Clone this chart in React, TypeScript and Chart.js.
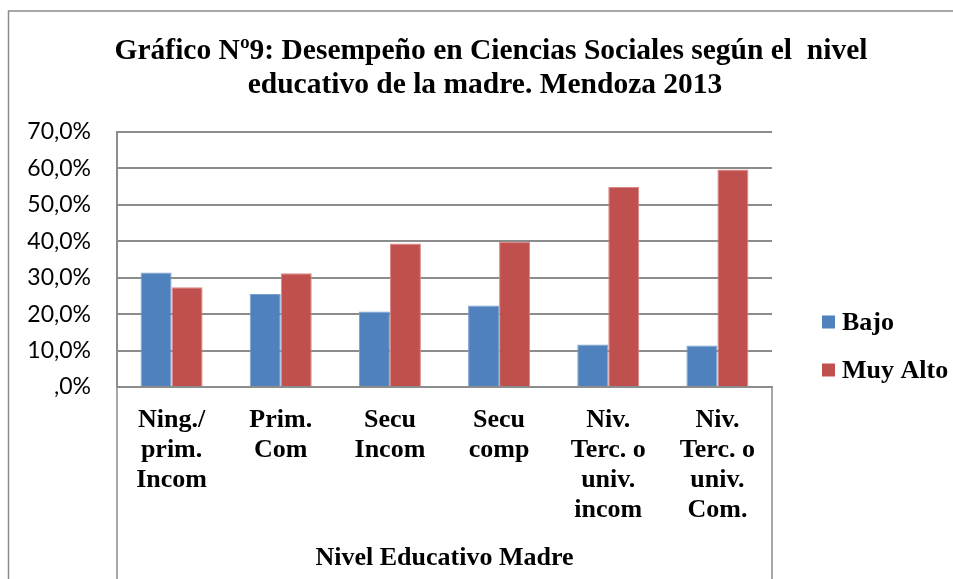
import React, { useEffect, useRef } from "react";
import { Chart, registerables } from "chart.js";

Chart.register(...registerables);

const categories: string[][] = [
  ["Ning./", "prim.", "Incom"],
  ["Prim.", "Com"],
  ["Secu", "Incom"],
  ["Secu", "comp"],
  ["Niv.", "Terc. o", "univ.", "incom"],
  ["Niv.", "Terc. o", "univ.", "Com."],
];
const bajo: number[] = [31.4, 25.5, 20.7, 22.4, 11.7, 11.4];
const muyAlto: number[] = [27.4, 31.2, 39.4, 39.9, 54.9, 59.7];
const seriesNames: string[] = ["Bajo", "Muy Alto"];
const seriesColors: string[] = ["#4F81BD", "#C0504D"];
const titleLines: string[] = [
  "Gráfico Nº9: Desempeño en Ciencias Sociales según el  nivel",
  "educativo de la madre. Mendoza 2013",
];
const xAxisTitle = "Nivel Educativo Madre";

const SERIF = "'Liberation Serif', 'Times New Roman', serif";
const SANS = "Lato, 'Liberation Sans', sans-serif";
const GRID = "#8c8c8c";

const decorPlugin = {
  id: "decor",
  beforeDraw(chart: any) {
    const ctx = chart.ctx;
    ctx.save();
    ctx.fillStyle = "#ffffff";
    ctx.fillRect(0, 0, chart.width, chart.height);
    ctx.strokeStyle = GRID;
    ctx.lineWidth = 1.5;
    ctx.beginPath();
    ctx.moveTo(8.5, chart.height + 5);
    ctx.lineTo(8.5, 11);
    ctx.lineTo(chart.width + 5, 11);
    ctx.stroke();
    ctx.restore();
  },
  afterDraw(chart: any) {
    const ctx = chart.ctx;
    const area = chart.chartArea;
    ctx.save();
    // Title
    ctx.fillStyle = "#000";
    ctx.font = `bold 29.5px ${SERIF}`;
    ctx.textAlign = "center";
    ctx.textBaseline = "middle";
    ctx.fillText(titleLines[0], 491, 51);
    ctx.fillText(titleLines[1], 485, 85);
    // category box lines
    ctx.strokeStyle = GRID;
    ctx.lineWidth = 1.5;
    ctx.beginPath();
    ctx.moveTo(area.left, area.bottom);
    ctx.lineTo(area.left, chart.height);
    ctx.moveTo(area.right, area.bottom);
    ctx.lineTo(area.right, chart.height);
    ctx.stroke();
    // x axis title
    ctx.font = `bold 26px ${SERIF}`;
    ctx.fillText(xAxisTitle, (area.left + area.right) / 2, 558);
    // legend
    const ys = [322, 370];
    ctx.textAlign = "left";
    chart.data.datasets.forEach((ds: any, i: number) => {
      ctx.fillStyle = ds.backgroundColor;
      ctx.fillRect(822, ys[i] - 6.5, 13, 13);
      ctx.fillStyle = "#000";
      ctx.fillText(ds.label, 842, ys[i] + 1);
    });
    ctx.restore();
  },
};

export default function App() {
  const ref = useRef<HTMLCanvasElement | null>(null);
  useEffect(() => {
    if (!ref.current) return;
    const chart = new Chart(ref.current, {
      type: "bar",
      data: {
        labels: categories,
        datasets: [
          {
            label: seriesNames[0],
            data: bajo,
            backgroundColor: seriesColors[0],
            borderColor: "#7a9fd0",
            borderWidth: 1,
          },
          {
            label: seriesNames[1],
            data: muyAlto,
            backgroundColor: seriesColors[1],
            borderColor: "#d98886",
            borderWidth: 1,
          },
        ],
      },
      options: {
        responsive: false,
        animation: false,
        layout: { padding: { top: 132, right: 181, bottom: 0, left: 0 } },
        plugins: {
          legend: { display: false },
          title: { display: false },
          tooltip: { enabled: false },
        },
        datasets: {
          bar: { categoryPercentage: 0.568, barPercentage: 1 },
        },
        scales: {
          x: {
            afterFit: (s: any) => {
              s.height = 192;
            },
            grid: { display: false, drawTicks: false },
            border: { display: true, color: GRID, width: 2 },
            ticks: {
              padding: 18,
              color: "#000",
              maxRotation: 0,
              autoSkip: false,
              font: { family: SERIF, size: 26, weight: "bold", lineHeight: 30 / 26 },
            },
          },
          y: {
            min: 0,
            max: 70,
            afterFit: (s: any) => {
              s.width = 117;
            },
            grid: { color: GRID, lineWidth: 2, drawTicks: false },
            border: { display: true, color: GRID, width: 2 },
            ticks: {
              stepSize: 10,
              padding: 26,
              color: "#000",
              font: { family: SANS, size: 23 },
              callback: (v: any) =>
                Number(v) === 0 ? ",0%" : Number(v).toFixed(1).replace(".", ",") + "%",
            },
          },
        },
      },
      plugins: [decorPlugin],
    });
    return () => chart.destroy();
  }, []);
  return (
    <div style={{ position: "absolute", left: 0, top: 0, width: 953, height: 579, overflow: "hidden" }}>
      <canvas ref={ref} width={953} height={579} style={{ display: "block", width: 953, height: 579 }} />
    </div>
  );
}
